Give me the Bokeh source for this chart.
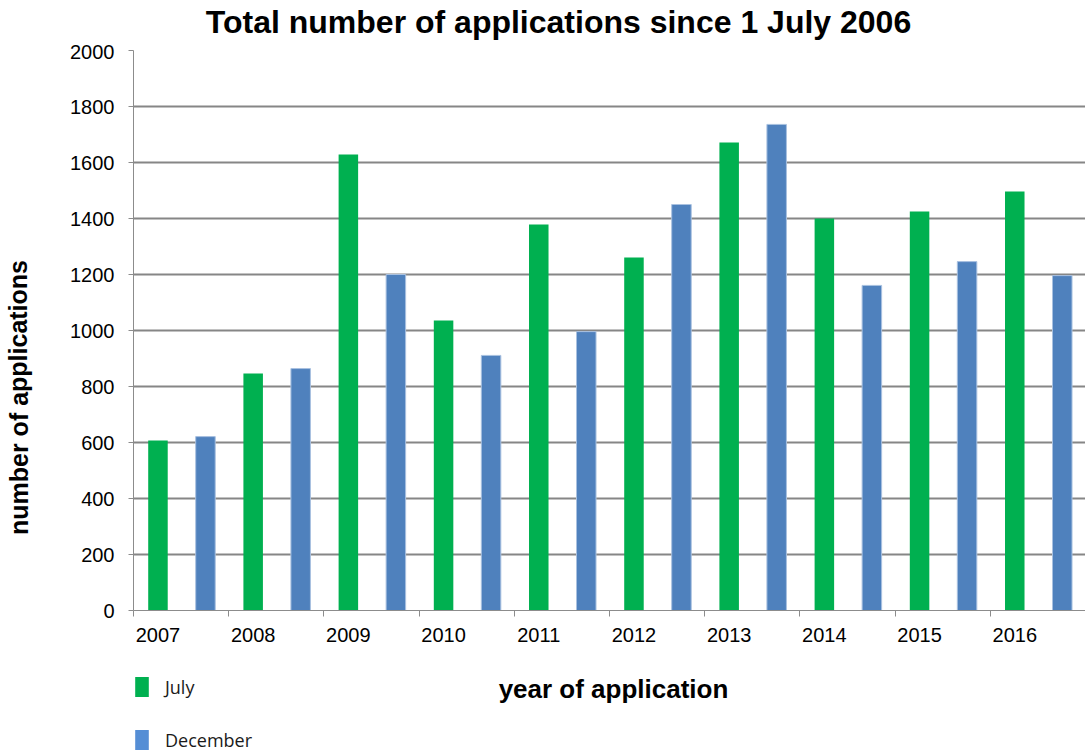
from bokeh.plotting import figure
from bokeh.models import (FixedTicker, Range1d, Label, Legend, LegendItem, ColumnDataSource)
from bokeh.layouts import column, row
from bokeh.embed import file_html
from bokeh.resources import INLINE

years = ["2007", "2008", "2009", "2010", "2011", "2012", "2013", "2014", "2015", "2016"]
july = [607, 846, 1629, 1036, 1379, 1261, 1671, 1400, 1425, 1496]
december = [621, 864, 1200, 911, 996, 1450, 1736, 1161, 1246, 1196]
y_ticks = [0, 200, 400, 600, 800, 1000, 1200, 1400, 1600, 1800, 2000]

GREEN = "#00B050"
BLUE = "#4F81BD"
LEG_BLUE = "#558ED5"
LEFT_W = 45
TOP_H = 44


def blank(w, h):
    f = figure(width=w, height=h, output_backend="svg", toolbar_location=None,
               x_range=Range1d(0, 1), y_range=Range1d(0, 1),
               min_border=0, min_border_left=0, min_border_right=0,
               min_border_top=0, min_border_bottom=0)
    f.title = None
    f.axis.visible = False
    f.grid.visible = False
    f.outline_line_color = None
    return f


# title strip
pt = blank(1085, TOP_H)
pt.add_layout(Label(x=558, y=TOP_H - 21, x_units="screen", y_units="screen",
                    text="Total number of applications since 1 July 2006",
                    text_font="Liberation Sans", text_font_style="bold",
                    text_font_size="32px", text_align="center", text_baseline="alphabetic",
                    text_color="black"))

# main chart
p = figure(width=1085 - LEFT_W, height=660 - TOP_H, output_backend="svg",
           toolbar_location=None,
           x_range=Range1d(0, len(years)), y_range=Range1d(0, 2000),
           min_border_left=133 - LEFT_W, min_border_right=0, min_border_top=50 - TOP_H,
           min_border_bottom=50)
p.title = None
p.outline_line_color = None

idx = list(range(len(years)))
src = ColumnDataSource(dict(xj=[i + 0.257 for i in idx], xd=[i + 0.756 for i in idx],
                            july=july, december=december))
p.vbar(x="xj", top="july", width=0.205, source=src, fill_color=GREEN, line_color=None)
p.vbar(x="xd", top="december", width=0.205, source=src, fill_color=BLUE,
       line_color="#A9C1E0", line_width=1)

xa = p.xaxis[0]
xa.ticker = FixedTicker(ticks=[i + 0.257 for i in idx], minor_ticks=list(range(len(years) + 1)))
xa.major_label_overrides = {i + 0.257: y for i, y in zip(idx, years)}
xa.major_tick_line_color = None
xa.minor_tick_in = 0
xa.minor_tick_out = 6
xa.minor_tick_line_color = "#8C8C8C"
xa.axis_line_color = "#8C8C8C"
xa.major_label_text_font = "Liberation Sans"
xa.major_label_text_font_size = "20px"
xa.major_label_text_color = "black"
xa.major_label_standoff = 11

ya = p.yaxis[0]
ya.ticker = FixedTicker(ticks=y_ticks)
ya.major_tick_in = 0
ya.major_tick_out = 5
ya.minor_tick_line_color = None
ya.major_tick_line_color = "#8C8C8C"
ya.axis_line_color = "#8C8C8C"
ya.major_label_text_font = "Liberation Sans"
ya.major_label_text_font_size = "20px"
ya.major_label_text_color = "black"
ya.major_label_standoff = 14

p.xgrid.grid_line_color = None
p.ygrid.grid_line_color = "#868686"
p.ygrid.grid_line_width = 2

# left strip: y axis title
pl = blank(LEFT_W, 660 - TOP_H)
pl.add_layout(Label(x=18, y=610 - 397, x_units="screen", y_units="screen",
                    text="number of applications", angle=1.5708,
                    text_font="Liberation Sans", text_font_style="bold",
                    text_font_size="25px", text_align="center", text_baseline="alphabetic",
                    text_color="black"))

# bottom strip: legend and x axis title
pb = blank(1085, 92)
lj = pb.vbar(x=[0.5], top=[0], bottom=[0], width=0.1, fill_color=GREEN, line_color=None)
ld = pb.vbar(x=[0.5], top=[0], bottom=[0], width=0.1, fill_color=LEG_BLUE, line_color=None)
legend = Legend(items=[LegendItem(label="July", renderers=[lj]),
                       LegendItem(label="December", renderers=[ld])],
                location=(133, 0), orientation="vertical",
                glyph_width=17, glyph_height=25, spacing=28, padding=0, margin=0,
                label_text_font="Open Sans", label_text_font_size="18px",
                label_text_color="#1a1a1a",
                label_standoff=15, border_line_color=None, background_fill_alpha=0)
pb.add_layout(legend, "center")
pb.add_layout(Label(x=613, y=92 - 28, x_units="screen", y_units="screen",
                    text="year of application",
                    text_font="Liberation Sans", text_font_style="bold",
                    text_font_size="26px", text_align="center", text_baseline="alphabetic",
                    text_color="black"))

layout = column(pt, row(pl, p, spacing=0), pb, spacing=0)
open("out.html", "w").write(file_html(layout, INLINE))
